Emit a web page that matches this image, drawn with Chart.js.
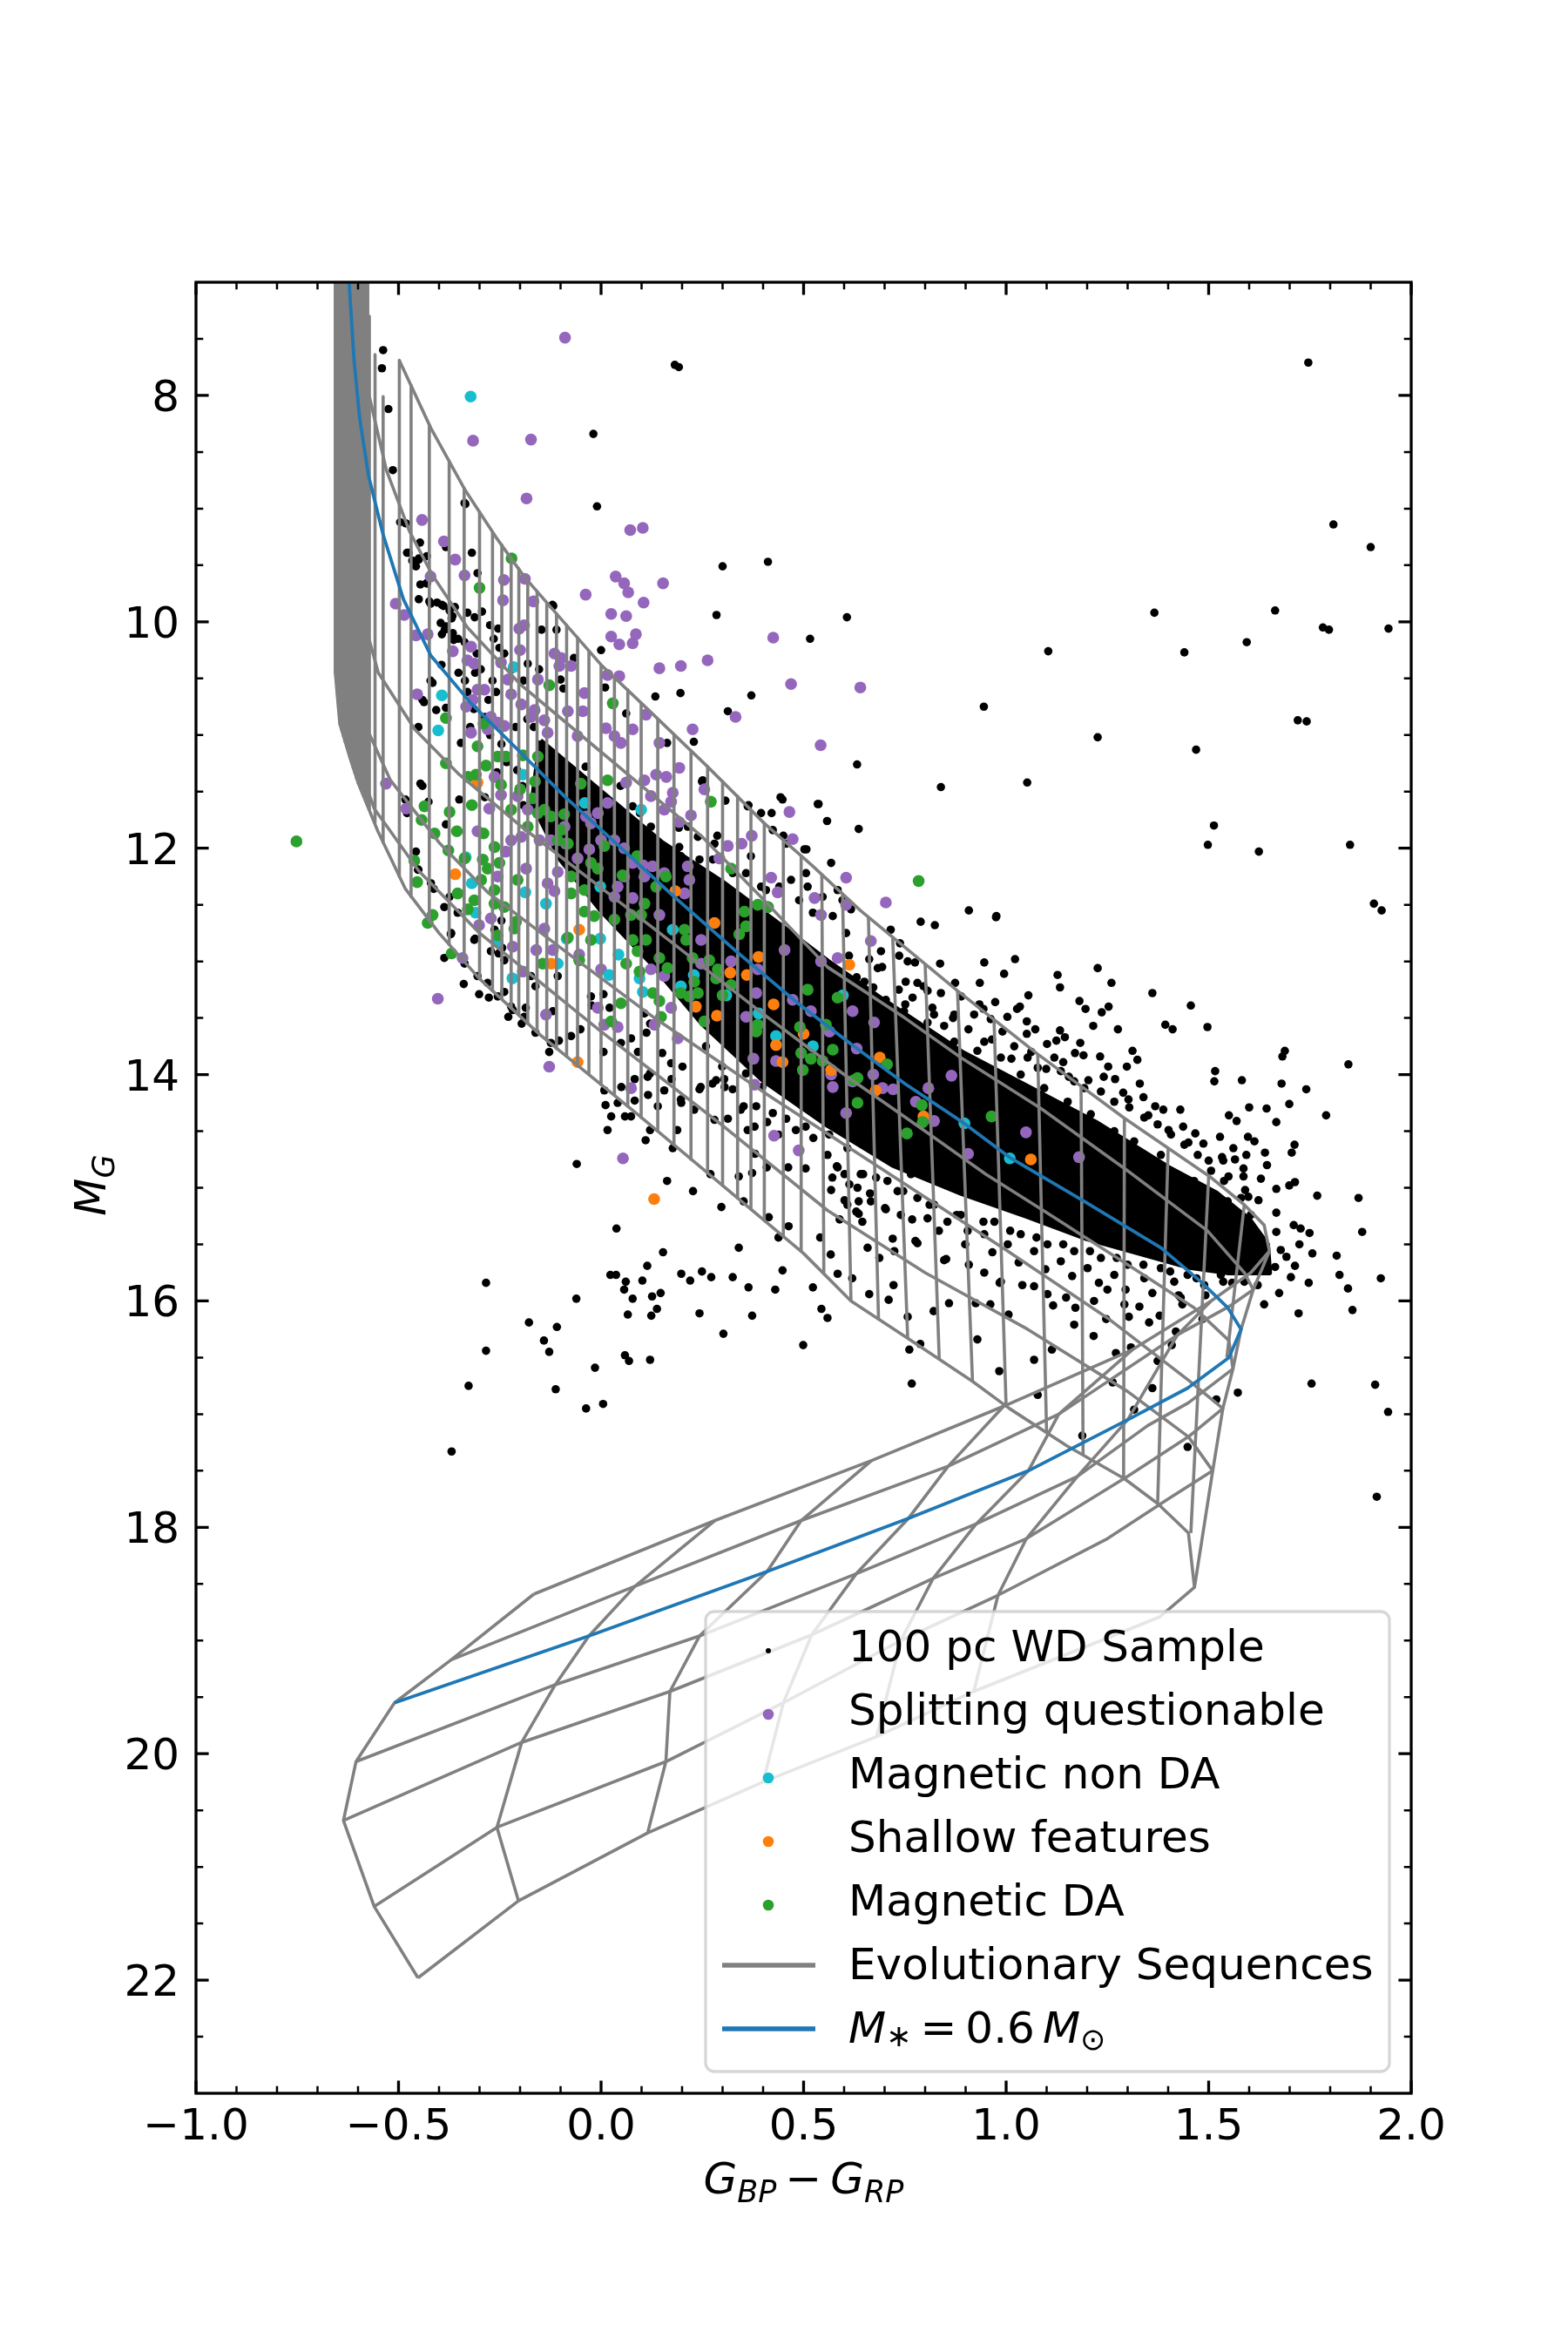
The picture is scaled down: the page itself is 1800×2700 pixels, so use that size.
<!DOCTYPE html>
<html>
<head>
<meta charset="utf-8">
<title>Gaia CMD of magnetic white dwarfs</title>
<script src="https://cdn.jsdelivr.net/npm/chart.js@4.4.1/dist/chart.umd.min.js"></script>
<style>
html,body{margin:0;padding:0;background:#ffffff;}
#wrap{position:relative;width:1800px;height:2700px;}
canvas{display:block;}
</style>
</head>
<body>
<div id="wrap"><canvas id="cmd" width="1800" height="2700"></canvas></div>
<script>
// ---------------- axis ticks / labels ----------------
const xTickValues = [-1.0, -0.5, 0.0, 0.5, 1.0, 1.5, 2.0];
const xTickLabels = ['\u22121.0', '\u22120.5', '0.0', '0.5', '1.0', '1.5', '2.0'];
const yTickValues = [8, 10, 12, 14, 16, 18, 20, 22];
const yTickLabels = ['8', '10', '12', '14', '16', '18', '20', '22'];
const legendLabels = ['100 pc WD Sample', 'Splitting questionable', 'Magnetic non DA', 'Shallow features', 'Magnetic DA', 'Evolutionary Sequences'];

// ---------------- 100 pc sample: outline of the saturated (overlapping) core ----------------
const wdCrowdedCore = [[-0.15,11.05],[-0.05,11.35],[0.05,11.65],[0.15,11.95],[0.3,12.3],[0.45,12.7],[0.56,13.0],[0.7,13.35],[0.89,13.8],[1.05,14.1],[1.22,14.42],[1.4,14.82],[1.52,15.05],[1.6,15.28],[1.645,15.5],[1.65,15.75],[1.55,15.75],[1.45,15.7],[1.3,15.55],[1.2,15.45],[1.05,15.25],[0.89,15.05],[0.72,14.8],[0.56,14.45],[0.4,14.05],[0.25,13.55],[0.12,13.0],[0.0,12.55],[-0.1,12.1],[-0.17,11.6],[-0.15,11.05]];

// ---------------- 100 pc sample: individual stars ----------------
const wdSample = [
[-0.538,7.60],[-0.541,7.76],[-0.525,8.12],[-0.514,8.66],[-0.496,9.12],[-0.482,9.13],[-0.447,9.30],[-0.383,9.34],[-0.319,9.39],[-0.335,8.96],[-0.305,9.57],[-0.475,9.39],[-0.466,9.46],[-0.457,9.51],[-0.45,9.45],[-0.43,9.42],[-0.446,9.67],[-0.43,9.66],[-0.424,9.82],[-0.405,9.83],[-0.389,9.86],[-0.361,9.87],[-0.367,9.95],[-0.33,9.92],[-0.312,9.96],[-0.294,9.91],[-0.274,10.03],[-0.254,10.06],[-0.396,10.01],[-0.386,10.07],[-0.366,10.10],[-0.353,10.15],[-0.337,10.18],[-0.394,10.38],[-0.416,10.54],[-0.437,10.71],[-0.265,10.15],[-0.251,10.23],[-0.118,9.86],[-0.147,10.07],[-0.181,10.37],[-0.10,10.51],[-0.093,10.59],
[-0.019,8.34],[-0.01,8.98],[0.192,7.75],[0.412,9.47],[0.300,9.51],[0.285,9.94],[-0.12,9.85],[0.371,10.65],[0.313,10.79],[0.196,10.63],[0.134,10.66],[0.01,10.58],[0.0,10.25],[-0.067,10.32],[-0.11,10.07],[-0.153,10.42],[-0.192,10.52],[0.062,10.81],[0.163,11.07],[0.249,11.41],[0.307,11.58],[0.364,11.62],[0.421,11.69],[0.45,11.89],
[-0.479,9.39],[-0.45,9.44],[-0.431,9.66],[-0.45,9.80],[-0.421,9.84],[-0.393,9.85],[-0.374,9.90],[-0.369,9.97],[-0.383,10.04],[-0.393,10.11],[-0.364,10.16],[-0.326,10.21],[-0.307,10.28],[-0.297,10.42],[-0.268,10.52],[-0.259,10.62],[-0.278,10.69],[-0.307,10.59],[-0.336,10.52],[-0.421,10.52],[-0.441,10.69],[-0.383,10.76],[-0.311,10.45],[-0.239,10.28],[-0.22,10.42],[-0.182,10.86],[-0.211,10.93],[-0.192,11.17],[-0.134,11.21],[-0.096,11.34],[-0.038,11.28],[0.048,11.45],[0.096,11.69],[0.192,11.82],[0.287,11.89],[-0.192,11.62],[-0.287,11.55],[-0.383,11.79],[-0.479,11.69],[-0.441,11.45],[-0.337,8.95],
[-0.33,10.62],[-0.314,10.77],[-0.287,10.84],[-0.274,11.0],[-0.246,11.08],[-0.233,11.24],[-0.207,11.31],[-0.194,11.45],[-0.352,10.45],[-0.323,10.93],[-0.257,11.33],[-0.166,10.93],[-0.143,11.13],[-0.117,11.27],[-0.083,11.5],[-0.047,11.6],[0.024,11.88],[-0.023,12.08],[0.063,12.08],[0.097,12.33],
[1.746,7.71],[1.808,9.14],[1.900,9.34],[1.944,10.06],[1.782,10.05],[1.797,10.07],[1.664,9.90],[1.594,10.18],[1.366,9.92],[1.44,10.27],[1.104,10.26],[0.945,10.75],[1.226,11.02],[1.469,11.13],[1.72,10.87],[1.742,10.88],[1.513,11.80],[1.498,11.97],[1.624,12.03],[1.849,11.97],[1.908,12.49],[0.839,11.46],[1.052,11.42],[1.845,13.91],[0.182,7.73],
[0.607,9.96],[0.516,10.15],[0.632,11.26],[0.537,11.61],[0.558,11.76],[0.636,11.83],[0.443,11.55],[0.507,12.01],[0.229,11.06],
[0.251,11.40],[0.362,11.63],[0.395,11.69],[0.448,11.57],[0.535,11.61],[0.424,11.84],[0.457,11.96],[0.502,12.01],[0.568,12.13],[0.37,12.07],[0.28,11.96],[0.239,11.90],[0.395,12.34],[0.469,12.28],[0.51,12.34],[0.584,12.37],[0.617,12.54],[0.288,12.34],[0.197,12.07],[0.123,11.81],[0.078,11.63],[0.037,11.72],[0.214,11.81],
[0.193,11.99],[0.243,12.1],[0.276,12.1],[0.325,12.22],[0.358,12.22],[0.407,12.37],[0.44,12.34],[0.489,12.46],[0.523,12.57],[0.572,12.6],[0.605,12.75],[0.506,12.22],[0.547,12.43],[0.596,12.46],
[0.115,14.02],[0.156,14.14],[0.197,14.22],[0.23,14.31],[0.28,14.40],[0.345,14.31],[0.379,14.46],[0.173,13.90],[0.049,13.72],[0.305,14.11],[0.008,14.14],[0.041,14.25],[0.074,14.37],[-0.074,13.66],[-0.124,13.72],[-0.19,13.49],[-0.222,13.40],[-0.255,13.31],[-0.28,13.19],[-0.305,13.13],[-0.337,13.02],[-0.37,12.75],
[0.259,13.75],[0.299,13.93],[0.358,13.99],[0.398,14.11],[0.457,14.13],[0.497,14.28],[0.556,14.28],[0.596,14.43],[0.284,14.05],[0.325,14.13],[0.383,14.28],[0.424,14.34],[0.481,14.49],[0.243,14.13],[0.151,13.81],[0.201,13.93],
[-0.451,10.93],[-0.446,11.43],[-0.35,11.57],[-0.407,10.78],[-0.346,11.07],[-0.457,12.03],[-0.451,12.19],[-0.42,12.31],[-0.374,12.43],[-0.354,12.57],[-0.313,12.81],[-0.239,12.99],[-0.173,13.13],[-0.107,13.13],[-0.025,13.31],
[-0.284,15.84],[-0.178,16.19],[-0.141,16.35],[-0.128,16.45],[-0.109,16.23],[-0.284,16.44],[-0.327,16.75],[-0.112,16.78],[-0.061,15.98],[-0.06,14.79],[-0.015,16.59],[0.023,15.77],[0.037,15.77],[0.061,15.83],[0.057,15.90],[0.078,15.98],[0.066,16.12],[0.059,16.48],[0.069,16.53],[0.121,16.52],[0.102,15.82],[0.124,16.13],[0.138,16.07],[0.126,15.96],[0.147,15.93],[0.114,15.69],[0.153,15.57],[0.198,15.76],[0.22,15.82],[0.249,15.74],[0.272,15.79],[0.243,16.11],[0.302,16.29],[0.325,15.79],[0.34,15.53],[0.373,16.13],[0.364,15.88],[0.43,15.90],[0.448,15.73],[0.414,15.26],[0.438,15.44],[0.463,15.34],[0.499,16.39],[0.541,15.44],[0.544,16.07],[0.523,15.88],[0.62,15.80],[0.636,15.23],[0.601,15.11],[0.568,15.02],[0.038,15.36],[0.011,14.27],[0.016,14.49],[0.025,14.37],[0.059,14.37],[0.083,14.23],[0.05,14.11],[0.11,14.58],[0.121,14.49],[0.177,14.65],[0.188,14.49],[0.163,14.94],[0.227,15.03],[0.27,14.88],[0.297,15.17],[0.34,14.90],[0.352,15.12],[0.373,14.87],[0.38,14.70],[0.409,14.82],[0.462,14.82],[0.505,14.83],[0.582,14.81],[0.601,14.88],[0.647,14.88],[0.664,15.05],[0.63,15.21],
[-0.483,11.57],[-0.426,11.59],[-0.461,12.10],[-0.452,12.19],[-0.413,12.36],[-0.387,12.52],[-0.371,12.76],[-0.387,12.97],[-0.311,12.80],[-0.263,12.72],[-0.272,12.91],[-0.253,12.93],[-0.244,12.88],[-0.246,12.64],[-0.301,13.29],[-0.277,13.32],[-0.339,13.20],[-0.239,13.27],[-0.218,13.43],[-0.229,13.49],[-0.196,13.55],[-0.162,13.63],[-0.128,13.80],[-0.104,13.70],[-0.051,13.60],[-0.119,13.44],[-0.186,13.41],[-0.162,13.22],[-0.023,13.39],[0.006,13.29],[0.021,13.41],[0.035,13.56],[0.074,13.68],[0.091,13.80],[0.112,13.63],[0.121,13.55],[0.107,13.46],[0.006,13.80],[0.083,14.04],[0.121,13.99],[0.116,14.18],[0.14,14.28],[0.198,14.25],[0.174,14.04],[0.246,14.11],[0.275,14.08],[0.304,14.04],[0.313,14.39],[0.352,14.28],[0.362,14.49],[0.41,14.42],[0.457,14.39],[0.438,14.53],[0.505,14.46],[0.524,14.56],[0.563,14.53],
[0.715,12.72],[0.691,12.91],[0.736,12.95],[0.757,13.0],[0.662,12.98],[0.683,13.06],[0.752,13.18],[0.781,13.19],[0.806,13.26],[0.769,13.32],[0.822,13.47],[0.806,13.54],[0.847,13.57],[0.872,13.47],[0.921,13.47],[0.934,13.38],[0.962,13.51],[0.991,13.62],[0.946,13.71],[1.02,13.75],[1.053,13.85],[1.078,13.94],[1.119,13.85],[1.135,13.97],[1.168,14.06],[1.193,14.12],[1.234,14.15],[1.267,14.24],[1.304,14.29],[1.341,14.38],[1.374,14.44],[1.407,14.53],[1.44,14.62],[1.473,14.71],[1.506,14.85],[1.538,14.94],[1.58,15.09],[1.604,15.24],[1.547,15.12],[1.464,14.94],[1.382,14.71],[1.316,14.59],[1.267,14.50],[1.209,14.35],[1.152,14.24],[1.094,14.12],[1.036,14.0],[0.987,13.85],[0.929,13.79],[0.872,13.71],[0.724,13.56],[0.65,13.18],[0.608,13.35],[0.703,13.34],[0.748,13.44],
[0.612,12.95],[0.631,13.14],[0.672,13.23],[0.694,13.05],[0.735,13.25],[0.751,13.38],[0.796,13.22],[0.818,13.41],[0.839,13.28],[0.869,13.5],[0.889,13.31],[0.907,13.6],[0.944,13.42],[0.965,13.69],[1.003,13.49],[1.013,13.86],[1.051,13.64],[1.062,13.8],[1.099,13.95],[1.124,13.7],[1.141,13.89],[1.155,14.02],[1.191,13.83],[1.203,14.05],[1.241,14.02],[1.252,13.93],[1.289,14.16],[1.302,14.22],[1.339,14.2],[1.351,14.36],[1.388,14.31],[1.401,14.49],[1.437,14.46],[1.45,14.6],[1.487,14.61],[1.5,14.76],[1.536,14.76],[1.549,14.9],[1.586,14.9],[1.598,15.08],[1.623,15.11],[1.565,14.75],[1.528,14.55],[1.467,14.52],[1.43,14.31],[1.368,14.28],[1.33,14.08],[1.269,14.04],[1.232,13.84],[1.17,13.81],[1.133,13.61],[1.072,13.6],[1.034,13.4],[0.973,13.36],[0.935,13.19],[0.874,13.19],[0.837,13.02],[0.775,13.01],[0.738,12.84],
[0.559,14.71],[0.608,14.65],[0.584,14.82],[0.641,14.88],[0.633,15.0],[0.707,14.94],[0.732,15.03],[0.765,14.88],[0.781,15.09],[0.822,15.15],[0.806,15.27],[0.855,15.30],[0.888,15.24],[0.905,15.38],[0.946,15.41],[0.971,15.30],[1.004,15.50],[1.036,15.41],[1.069,15.56],[1.102,15.50],[1.135,15.65],[1.168,15.56],[1.201,15.71],[1.234,15.62],[1.267,15.77],[1.3,15.68],[1.341,15.80],[1.382,15.71],[1.415,15.83],[1.448,15.77],[1.489,15.86],[1.53,15.77],[1.571,15.71],[1.613,15.65],[1.588,15.83],[0.748,14.77],[0.666,15.12],[0.74,15.24],[0.608,15.15],
[0.571,14.91],[0.613,14.97],[0.636,15.12],[0.679,14.91],[0.701,15.18],[0.746,15.03],[0.768,15.28],[0.811,15.15],[0.834,15.38],[0.878,15.24],[0.899,15.5],[0.944,15.3],[0.966,15.57],[1.01,15.38],[1.031,15.66],[1.075,15.44],[1.097,15.72],[1.141,15.5],[1.163,15.78],[1.207,15.56],[1.229,15.84],[1.273,15.62],[1.295,15.9],[1.339,15.68],[1.361,15.93],[1.405,15.74],[1.426,15.95],[1.47,15.8],[1.492,15.95],[1.536,15.83],[1.558,15.84],[1.602,15.68],[0.589,15.28],[0.645,15.3],[0.72,15.45],[0.776,15.47],[0.852,15.63],[0.908,15.68],[0.984,15.84],[1.04,15.86],[1.116,16.04],[1.171,16.06],[1.247,16.16],[1.303,16.14],[1.379,16.13],[1.435,16.03],
[0.584,15.76],[0.662,15.94],[0.71,15.99],[0.722,15.86],[0.788,16.38],[0.757,16.14],[0.761,16.43],[0.859,16.02],[0.821,16.09],[0.925,16.02],[0.961,16.03],[1.006,16.12],[0.983,16.62],[0.929,16.34],[1.069,16.52],[1.113,16.43],[1.168,16.21],[1.216,16.31],[1.217,16.0],[1.263,16.72],[1.308,16.41],[1.353,16.19],[1.361,16.77],[1.374,16.53],[1.419,16.27],[1.485,16.16],[0.767,16.73],[0.559,16.15],[0.658,15.53],[0.724,15.56],[0.781,15.49],[0.703,15.19],[0.567,15.59],[0.687,15.62],[0.847,15.64],[0.946,15.75],[0.987,15.83],[1.069,15.87],[1.102,15.94],[1.148,15.97],[1.25,15.90],[1.292,16.03],[1.329,16.05],[1.431,15.97],[1.078,16.83],[1.188,17.19],[-0.037,16.95],[0.005,16.91],[-0.369,17.33],
[0.789,12.65],[0.824,12.68],[0.975,12.61],[1.022,12.98],[0.946,13.01],[0.995,13.11],[1.127,13.12],[1.226,13.06],[1.26,13.19],[1.133,13.23],[1.055,13.30],[1.181,13.35],[1.196,13.42],[1.236,13.45],[1.253,13.40],[1.361,13.28],[1.456,13.39],[1.393,13.56],[1.411,13.60],[1.497,13.58],[1.276,13.60],[1.215,13.57],[1.145,13.67],[1.183,13.72],[1.101,13.73],[1.051,13.53],[1.027,13.42],[1.312,13.79],[1.324,13.87],[1.298,13.93],[1.688,13.79],[1.682,13.84],[1.516,13.97],[1.514,14.06],[1.582,14.05],[1.68,14.08],[1.533,14.73],[1.927,12.55],[0.908,12.55],[0.976,12.60],
[1.79,14.36],[1.741,14.13],[1.699,14.26],[1.643,14.30],[1.60,14.29],[1.569,14.41],[1.55,14.36],[1.667,14.42],[1.613,14.59],[1.597,14.55],[1.712,14.62],[1.705,14.69],[1.639,14.69],[1.644,14.80],[1.593,14.71],[1.561,14.65],[1.586,14.83],[1.629,14.92],[1.713,14.95],[1.699,14.98],[1.667,15.01],[1.59,15.02],[1.768,15.07],[1.87,15.09],[1.879,15.39],[1.71,15.33],[1.727,15.36],[1.749,15.40],[1.667,15.22],[1.667,15.39],[1.724,15.50],[1.756,15.58],[1.816,15.60],[1.678,15.55],[1.692,15.61],[1.713,15.69],[1.664,15.70],[1.703,15.79],[1.747,15.84],[1.823,15.77],[1.844,15.89],[1.925,15.80],[1.722,16.11],[1.637,16.03],[1.674,15.93],[1.621,15.86],[1.855,16.08],[1.754,16.73],[1.911,16.74],[1.943,16.98],[1.915,17.73],[1.572,16.81],[1.519,16.87],[1.316,16.96],[1.448,17.29],[1.271,16.46],[1.409,16.39]
];

// ---------------- magnetic WD subsamples ----------------
const splittingQuestionable = [
[-0.089,7.49],[-0.316,8.40],[-0.173,8.39],[-0.184,8.91],[-0.442,9.10],[-0.388,9.29],[-0.36,9.45],[-0.421,9.60],[-0.337,9.59],[-0.24,9.63],[-0.188,9.62],[-0.242,9.81],[-0.167,9.82],[-0.507,9.84],
[0.072,9.19],[0.103,9.17],[-0.038,9.76],[0.036,9.60],[0.057,9.66],[0.067,9.74],[0.153,9.66],[0.105,9.83],[0.64,10.58],
[-0.486,9.94],[-0.457,10.12],[-0.428,10.11],[-0.366,10.26],[-0.321,10.22],[-0.33,10.34],[-0.313,10.37],[-0.305,10.60],[-0.288,10.60],[-0.317,10.69],[-0.333,10.75],[-0.272,10.84],[-0.255,10.89],[-0.28,10.95],[-0.321,10.98],[-0.239,10.92],[-0.202,10.06],[-0.19,10.03],[-0.2,10.25],[-0.247,10.36],[-0.23,10.51],[-0.222,10.64],[-0.156,10.51],[-0.164,10.78],[-0.14,10.87],[-0.197,10.73],[-0.173,10.84],[-0.115,10.28],[-0.099,10.32],[-0.103,10.39],[-0.074,10.39],[-0.041,10.63],[-0.045,10.79],[-0.082,10.79],[-0.132,10.98],[-0.058,11.01],[0.012,10.94],[0.033,11.01],[0.049,11.07],[0.078,10.95],[0.016,10.47],[0.045,10.48],[0.025,9.93],[0.062,9.95],[0.025,10.13],[0.045,10.20],[0.078,10.19],[0.086,10.11],[0.144,10.41],[0.197,10.39],[0.263,10.34],[0.425,10.14],[0.469,10.55],[0.332,10.84],[0.226,10.95],[0.111,10.82],[0.144,11.07],[0.542,11.09],[0.193,11.29],[0.136,11.35],[0.161,11.37],[0.107,11.40],[0.062,11.42],[0.177,11.51],[0.173,11.59],[0.123,11.54],[0.255,11.48],[0.222,11.71],[0.193,11.77],[0.156,11.66],[0.313,11.98],[0.292,12.09],[0.465,11.68],[0.473,11.92],[0.372,11.89],[0.347,11.96],[0.605,12.26],[0.42,12.26],[0.436,12.39],[0.527,12.44],[0.543,12.59],[0.412,12.52],[0.605,12.50],[-0.025,11.78],[-0.037,11.72],[-0.008,11.69],[0.016,11.60],[0.0,11.93],[0.033,11.93],[0.057,12.0],[-0.029,12.01],[-0.058,12.09],[-0.087,11.96],[-0.124,11.93],[-0.09,11.81],[-0.181,11.66],[-0.222,11.93],[-0.197,11.90],[-0.152,11.93],[-0.206,11.54],[-0.247,11.53],[-0.263,11.37],[-0.276,11.65],[-0.305,11.85],[-0.235,12.03],[-0.185,12.18],[-0.132,12.31],[-0.107,12.21],[-0.115,12.38],[0.078,12.13],[0.103,12.15],[0.127,12.16],[0.107,12.25],[0.057,12.25],[0.041,12.34],[0.033,12.43],[0.078,12.44],[0.156,12.22],[0.214,12.16],[0.218,12.28],[0.206,12.40],[0.144,12.59],[0.247,12.81],[0.247,13.02],[0.321,13.0],[0.387,13.07],[0.383,13.28],[0.358,13.49],[0.376,13.86],[0.432,13.88],[0.473,13.34],[0.518,13.44],[0.564,13.62],[0.584,12.97],[0.543,13.0],[0.453,12.90],[0.605,14.34],[0.568,14.0],[0.572,14.11],[0.379,14.09],[0.074,14.12],[0.189,13.68],[0.132,13.56],[0.173,13.41],[0.156,13.13],[0.123,13.07],[0.0,13.07],[-0.008,13.41],[0.008,13.56],[0.041,13.58],[-0.136,13.47],[-0.128,13.93],[-0.218,12.87],[-0.193,13.09],[-0.16,12.90],[-0.119,12.90],[-0.054,12.94],[-0.14,12.71],[-0.272,12.62],[-0.301,12.68],[-0.342,12.97],[-0.403,13.33],[-0.481,11.65],[-0.531,11.43],[-0.454,10.64],[-0.255,12.25],
[0.666,12.82],[0.621,13.44],[0.674,13.54],[0.631,13.77],[0.672,14.0],[0.621,14.06],[0.695,14.12],[0.721,14.13],[0.808,14.12],[0.865,14.01],[0.777,14.24],[0.822,14.41],[0.906,14.70],[1.049,14.51],[1.18,14.73],[0.703,12.48],[0.054,14.74],[0.427,14.54],[0.488,14.67]
];
const magneticNonDA = [
[-0.322,8.01],[-0.216,10.40],[-0.393,10.65],[-0.402,10.96],[-0.193,11.35],[-0.04,11.60],[0.099,11.66],[-0.334,12.08],[-0.319,12.31],[-0.31,12.57],[-0.187,12.39],[-0.136,12.49],[-0.002,12.34],[-0.085,12.80],[-0.002,12.80],[0.043,12.94],[-0.255,12.83],[-0.219,13.15],[-0.107,13.02],[0.02,13.12],[0.095,13.15],[0.103,13.27],[0.177,12.72],[0.197,13.22],[0.229,13.12],[0.309,13.30],[0.389,13.46],[0.432,13.66],[0.523,13.75],[0.597,13.30],[0.897,14.43],[1.009,14.74]
];
const shallowFeatures = [
[-0.305,11.42],[-0.36,12.23],[-0.054,12.72],[-0.123,13.02],[0.183,12.38],[0.28,12.66],[0.319,13.10],[0.36,13.12],[0.389,12.96],[0.234,13.40],[0.286,13.48],[0.426,13.38],[0.432,13.74],[0.5,13.64],[0.448,13.89],[0.568,13.96],[0.613,13.03],[-0.058,13.89],[0.688,13.85],[0.678,14.14],[0.796,14.37],[1.061,14.75],[0.131,15.10]
];
const magneticDA = [
[-0.752,11.94],[-0.221,9.44],[-0.3,9.70],[0.784,12.29],
[-0.128,10.56],[0.029,10.72],[-0.383,10.85],[-0.29,10.90],[-0.305,11.10],[-0.284,11.27],[-0.255,11.19],[-0.235,11.19],[-0.193,11.18],[-0.156,11.19],[-0.383,11.25],[-0.329,11.37],[-0.309,11.35],[-0.247,11.44],[-0.2,11.48],[-0.169,11.56],[-0.163,11.41],[-0.222,11.66],[-0.181,11.81],[-0.156,11.69],[-0.14,11.66],[-0.124,11.72],[-0.091,11.70],[-0.099,11.84],[-0.107,11.93],[-0.082,11.96],[-0.05,11.43],[0.016,11.40],[0.271,11.59],[0.008,11.98],[0.089,12.07],[0.053,12.24],[-0.008,12.18],[-0.025,12.13],[-0.074,12.25],[-0.074,12.40],[-0.041,12.37],[-0.041,12.56],[-0.017,12.60],[0.074,12.59],[0.099,12.59],[0.107,12.49],[0.136,12.34],[0.16,12.25],[0.321,12.18],[0.387,12.5],[0.412,12.52],[0.354,12.56],[0.358,12.69],[0.341,12.76],[0.206,12.72],[0.21,12.81],[0.111,12.81],[0.078,12.81],[0.09,12.91],[0.095,13.09],[0.062,13.02],[0.144,12.97],[0.164,13.06],[0.226,12.97],[0.267,12.99],[0.288,13.07],[0.284,13.15],[0.321,13.21],[0.23,13.18],[0.239,13.28],[0.218,13.31],[0.197,13.28],[0.128,13.28],[0.144,13.35],[0.148,13.49],[0.255,13.53],[0.3,13.30],[0.387,13.56],[0.383,13.62],[0.491,13.58],[0.51,13.25],[0.584,13.32],[0.555,13.56],[0.494,13.81],[0.518,13.86],[0.547,13.88],[0.498,13.96],[0.572,13.78],[0.624,14.05],[0.025,13.53],[0.049,13.37],[0.033,12.63],[-0.025,12.81],[-0.054,12.99],[-0.082,12.79],[-0.144,13.02],[-0.21,12.65],[-0.214,12.71],[-0.206,12.28],[-0.239,12.52],[-0.263,12.49],[-0.255,12.77],[-0.329,12.54],[-0.313,12.46],[-0.354,12.40],[-0.263,12.37],[-0.296,12.28],[-0.28,12.18],[-0.251,12.13],[-0.292,12.10],[-0.337,12.09],[-0.29,11.87],[-0.263,11.99],[-0.356,11.85],[-0.377,12.02],[-0.411,11.87],[-0.436,11.63],[-0.443,11.75],[-0.374,11.68],[-0.319,11.62],[-0.461,12.11],[-0.454,12.30],[-0.416,12.59],[-0.428,12.66],[-0.369,12.93],
[0.706,13.91],[0.633,14.03],[0.633,14.25],[0.792,14.27],[0.794,14.42],[0.755,14.52],[0.964,14.37]
];

// ---------------- evolutionary sequences: cooling tracks ----------------
const seqLowest = [[-0.498,7.69],[-0.42,8.29],[-0.335,8.84],[-0.26,9.25],[-0.19,9.6],[-0.10,9.97],[0.0,10.38],[0.1,10.72],[0.263,11.28],[0.403,11.78],[0.52,12.15],[0.64,12.55],[0.88,13.26],[1.078,13.82],[1.29,14.38],[1.506,14.91],[1.588,15.15],[1.637,15.33],[1.65,15.56],[1.604,15.75],[1.506,16.0],[1.312,16.43],[0.994,16.93],[0.668,17.41],[0.281,17.94],[-0.166,18.59]];
const seqSecond = [[-0.60,7.0],[-0.581,7.87],[-0.53,8.66],[-0.473,9.2],[-0.416,9.59],[-0.33,10.05],[-0.2,10.55],[-0.05,11.0],[0.1,11.45],[0.25,11.9],[0.4,12.45],[0.559,13.05],[0.75,13.5],[0.888,13.85],[1.086,14.3],[1.30,14.85],[1.497,15.38],[1.588,15.75],[1.61,15.9],[1.55,16.05],[1.423,16.3],[1.13,17.0],[0.857,17.46],[0.494,17.94],[0.084,18.52],[-0.37,19.17]];
const seq06 = [[-0.622,7.0],[-0.61,7.68],[-0.596,8.2],[-0.574,8.71],[-0.538,9.23],[-0.488,9.8],[-0.42,10.3],[-0.321,10.72],[-0.2,11.15],[-0.091,11.54],[0.05,12.0],[0.181,12.43],[0.33,12.9],[0.486,13.37],[0.624,13.75],[0.75,14.08],[0.896,14.43],[1.012,14.74],[1.193,15.12],[1.382,15.53],[1.481,15.83],[1.547,16.06],[1.58,16.25],[1.55,16.5],[1.448,16.77],[1.3,17.05],[1.055,17.5],[0.759,17.92],[0.41,18.39],[-0.03,18.96],[-0.51,19.55]];
const seqFourth = [[-0.64,7.0],[-0.635,8.0],[-0.625,9.0],[-0.6,9.8],[-0.55,10.45],[-0.46,10.95],[-0.35,11.35],[-0.2,11.8],[0.0,12.35],[0.181,12.85],[0.395,13.45],[0.6,14.0],[0.8,14.5],[0.95,14.88],[1.1,15.22],[1.3,15.68],[1.464,16.06],[1.55,16.35],[1.56,16.6],[1.45,16.9],[1.35,17.1],[1.176,17.55],[0.926,17.97],[0.63,18.41],[0.243,18.96],[-0.113,19.39],[-0.605,20.07]];
const seqFifth = [[-0.648,7.0],[-0.645,8.5],[-0.64,9.5],[-0.625,10.3],[-0.59,10.85],[-0.52,11.4],[-0.4,11.95],[-0.28,12.39],[-0.074,12.95],[0.132,13.5],[0.42,14.2],[0.7,14.85],[1.0,15.55],[1.25,16.15],[1.45,16.7],[1.535,16.95],[1.45,17.2],[1.3,17.55],[1.05,18.1],[0.82,18.45],[0.52,18.95],[0.17,19.45],[-0.196,19.9],[-0.636,20.59]];
const seqSixth = [[-0.652,7.0],[-0.65,9.5],[-0.645,10.4],[-0.62,11.05],[-0.56,11.65],[-0.45,12.2],[-0.3,12.75],[0.0,13.62],[0.3,14.45],[0.559,15.2],[0.8,15.75],[1.053,16.25],[1.3,16.8],[1.45,17.2],[1.51,17.5],[1.4,17.75],[1.25,18.1],[0.98,18.6],[0.74,19.0],[0.45,19.55],[0.16,20.07],[-0.257,20.65],[-0.56,21.35]];
const seqHighest = [[-0.656,7.0],[-0.656,10.45],[-0.645,10.9],[-0.62,11.2],[-0.599,11.43],[-0.551,11.85],[-0.483,12.36],[-0.4,12.75],[-0.301,13.15],[-0.15,13.65],[0.09,14.35],[0.3,14.98],[0.5,15.58],[0.617,16.0],[0.757,16.33],[0.917,16.71],[1.008,16.95],[1.15,17.28],[1.292,17.57],[1.374,17.79],[1.45,18.05],[1.465,18.53],[1.38,18.79],[1.2,19.05],[0.92,19.45],[0.68,19.85],[0.4,20.25],[0.115,20.7],[-0.204,21.3],[-0.452,21.98]];
const seqTurnEdge = [[1.65,15.56],[1.61,15.9],[1.58,16.25],[1.56,16.6],[1.535,16.95],[1.51,17.5],[1.465,18.53]];

// ---------------- evolutionary sequences: isochrones ----------------
const isoLowA = [[0.281,17.94],[0.084,18.52],[-0.03,18.96],[-0.113,19.39],[-0.196,19.9],[-0.257,20.65],[-0.204,21.3]];
const isoLowB = [[0.668,17.41],[0.494,17.94],[0.41,18.39],[0.243,18.96],[0.17,19.45],[0.16,20.07],[0.115,20.7]];
const isoLowC = [[0.994,16.93],[0.857,17.46],[0.759,17.92],[0.63,18.41],[0.52,18.95],[0.45,19.55],[0.4,20.25]];
const isoLowD = [[1.312,16.43],[1.13,17.0],[1.055,17.5],[0.926,17.97],[0.82,18.45],[0.74,19.0],[0.68,19.85]];
const isoLowE = [[1.506,16.0],[1.423,16.3],[1.3,17.05],[1.176,17.55],[1.05,18.1],[0.98,18.6],[0.92,19.45]];
const isoLowEdge = [[-0.166,18.59],[-0.37,19.17],[-0.51,19.55],[-0.605,20.07],[-0.636,20.59],[-0.56,21.35],[-0.452,21.98]];
// young isochrones: [x at top, MG at top, x at bottom, MG at bottom]
const isoUpper = [
[-0.656,7,-0.656,10.45],[-0.652,7,-0.652,10.62],[-0.648,7,-0.648,10.75],[-0.644,7,-0.644,10.91],[-0.640,7,-0.640,10.96],[-0.636,7,-0.636,11.01],[-0.632,7,-0.632,11.06],[-0.628,7,-0.628,11.10],[-0.624,7,-0.624,11.15],[-0.620,7,-0.620,11.20],[-0.616,7,-0.616,11.24],[-0.612,7,-0.612,11.29],[-0.608,7,-0.608,11.33],[-0.604,7,-0.604,11.38],[-0.600,7,-0.600,11.42],[-0.594,7,-0.594,11.47],[-0.588,7,-0.588,11.52],[-0.582,7,-0.582,11.57],[-0.576,7,-0.576,11.62],
[-0.572,7.30,-0.572,11.66],[-0.558,7.64,-0.558,11.78],[-0.538,8.01,-0.538,11.95],[-0.498,7.69,-0.498,12.25],
[-0.469,7.91,-0.469,12.43],[-0.424,8.26,-0.424,12.64],[-0.375,8.58,-0.375,12.85],[-0.338,8.82,-0.338,13.00],[-0.300,9.03,-0.300,13.15],[-0.268,9.21,-0.268,13.26],[-0.245,9.32,-0.245,13.33],[-0.222,9.44,-0.222,13.41],[-0.203,9.53,-0.203,13.47],[-0.181,9.64,-0.181,13.55],[-0.158,9.73,-0.158,13.62],[-0.134,9.83,-0.134,13.70],[-0.110,9.93,-0.110,13.77],[-0.085,10.03,-0.085,13.84],[-0.058,10.14,-0.058,13.92],[-0.030,10.26,-0.030,14.00],[0.000,10.38,0.000,14.09],[0.033,10.49,0.033,14.18],[0.066,10.60,0.066,14.28],[0.099,10.72,0.099,14.38],[0.140,10.86,0.140,14.50],[0.180,11.00,0.180,14.62],[0.222,11.14,0.222,14.75],[0.263,11.28,0.263,14.87],[0.300,11.41,0.300,14.98],[0.337,11.54,0.337,15.09],[0.370,11.66,0.370,15.19],[0.403,11.78,0.403,15.29],[0.450,11.93,0.450,15.43],[0.494,12.07,0.494,15.56],[0.545,12.23,0.550,15.75],[0.596,12.40,0.617,16.00],[0.660,12.61,0.685,16.17],[0.720,12.79,0.757,16.33],[0.800,13.02,0.835,16.52],[0.880,13.26,0.917,16.71],[0.970,13.51,1.000,16.93],[1.078,13.82,1.100,17.17],[1.185,14.10,1.190,17.36],[1.292,14.38,1.290,17.57],[1.400,14.65,1.374,17.79],[1.500,14.90,1.456,18.05],[1.588,15.15,1.545,16.50]
];

// ---------------- build datasets ----------------
const toXY = arr => arr.map(p => ({x: p[0], y: p[1]}));
const GRAY = '#808080', BLUE = '#1f77b4';
const COL = {wd: '#000000', split: '#9467bd', nonDA: '#17becf', shallow: '#ff7f0e', magDA: '#2ca02c'};

function scatterSet(label, pts, color, r, order) {
  return {type: 'scatter', label, data: toXY(pts), backgroundColor: color, borderColor: color,
          borderWidth: 0, pointRadius: r, pointHoverRadius: r, order, clip: 0};
}
function lineSet(label, pts, color, w, order) {
  return {type: 'line', label, data: toXY(pts), borderColor: color, backgroundColor: color,
          borderWidth: w, pointRadius: 0, pointHoverRadius: 0, fill: false, tension: 0,
          order, clip: 0, borderCapStyle: 'butt', borderJoinStyle: 'round'};
}

const datasets = [];
datasets.push({type: 'line', label: 'core', data: toXY(wdCrowdedCore), borderColor: '#000', backgroundColor: '#000',
  borderWidth: 6, pointRadius: 0, fill: 'shape', tension: 0, order: 101, clip: 0, borderJoinStyle: 'round'});
datasets.push(scatterSet(legendLabels[0], wdSample, COL.wd, 4.8, 100));
datasets.push(scatterSet(legendLabels[1], splittingQuestionable, COL.split, 6.8, 90));
datasets.push(scatterSet(legendLabels[2], magneticNonDA, COL.nonDA, 6.8, 80));
datasets.push(scatterSet(legendLabels[3], shallowFeatures, COL.shallow, 6.8, 70));
datasets.push(scatterSet(legendLabels[4], magneticDA, COL.magDA, 6.8, 60));
[seqLowest, seqSecond, seqFourth, seqFifth, seqSixth, seqHighest, seqTurnEdge,
 isoLowA, isoLowB, isoLowC, isoLowD, isoLowE, isoLowEdge].forEach((s, i) => datasets.push(lineSet('seq' + i, s, GRAY, 3.6, 50)));
isoUpper.forEach((s, i) => datasets.push(lineSet('iso' + i, [[s[0], s[1]], [s[2], s[3]]], GRAY, 3.6, 50)));
datasets.push(lineSet('M06', seq06, BLUE, 3.8, 40));

// ---------------- decorations (frame, ticks, labels, legend) ----------------
function mathRun(ctx, parts) {
  let w = 0;
  parts.forEach(p => { ctx.font = p.f; w += ctx.measureText(p.t).width + (p.g || 0); });
  return w;
}
function drawRun(ctx, parts, x, y) {
  let cx = x;
  parts.forEach(p => { ctx.font = p.f; ctx.fillText(p.t, cx, y + (p.dy || 0)); cx += ctx.measureText(p.t).width + (p.g || 0); });
}

const decor = {
  id: 'decor',
  afterDraw(chart) {
    const ctx = chart.ctx, a = chart.chartArea, xs = chart.scales.x, ys = chart.scales.y;
    ctx.save();
    ctx.fillStyle = '#000'; ctx.strokeStyle = '#000';
    // minor ticks
    ctx.lineWidth = 2.5; ctx.beginPath();
    for (let i = -10; i <= 20; i++) {
      if (i % 5 === 0) continue;
      const px = xs.getPixelForValue(i / 10);
      ctx.moveTo(px, a.bottom); ctx.lineTo(px, a.bottom - 8.3);
      ctx.moveTo(px, a.top); ctx.lineTo(px, a.top + 8.3);
    }
    for (let i = 15; i <= 45; i++) {
      const v = i / 2;
      if (v % 2 === 0) continue;
      const py = ys.getPixelForValue(v);
      ctx.moveTo(a.left, py); ctx.lineTo(a.left + 8.3, py);
      ctx.moveTo(a.right, py); ctx.lineTo(a.right - 8.3, py);
    }
    ctx.stroke();
    // major ticks
    ctx.lineWidth = 3.3; ctx.beginPath();
    xTickValues.forEach(v => {
      const px = xs.getPixelForValue(v);
      ctx.moveTo(px, a.bottom); ctx.lineTo(px, a.bottom - 14.6);
      ctx.moveTo(px, a.top); ctx.lineTo(px, a.top + 14.6);
    });
    yTickValues.forEach(v => {
      const py = ys.getPixelForValue(v);
      ctx.moveTo(a.left, py); ctx.lineTo(a.left + 14.6, py);
      ctx.moveTo(a.right, py); ctx.lineTo(a.right - 14.6, py);
    });
    ctx.stroke();
    // frame
    ctx.lineWidth = 3.3;
    ctx.strokeRect(a.left, a.top, a.right - a.left, a.bottom - a.top);
    // tick labels
    ctx.font = '50px "DejaVu Sans"';
    ctx.textBaseline = 'alphabetic';
    ctx.textAlign = 'center';
    xTickValues.forEach((v, i) => ctx.fillText(xTickLabels[i], xs.getPixelForValue(v), a.bottom + 53));
    ctx.textAlign = 'right';
    yTickValues.forEach((v, i) => ctx.fillText(yTickLabels[i], a.left - 19, ys.getPixelForValue(v) + 18));
    // x axis title  G_BP - G_RP
    ctx.textAlign = 'left';
    const IT = 'italic 50px "DejaVu Sans"', ITs = 'italic 35px "DejaVu Sans"', UP = '50px "DejaVu Sans"', UPs = '35px "DejaVu Sans"';
    const xt = [{t: 'G', f: IT}, {t: 'BP', f: ITs, dy: 10, g: 10}, {t: '\u2212', f: UP, g: 10}, {t: 'G', f: IT}, {t: 'RP', f: ITs, dy: 10}];
    const xw = mathRun(ctx, xt);
    drawRun(ctx, xt, (a.left + a.right) / 2 - xw / 2, 2518);
    // y axis title  M_G
    const yt = [{t: 'M', f: IT}, {t: 'G', f: ITs, dy: 10}];
    const yw = mathRun(ctx, yt);
    ctx.save();
    ctx.translate(121, (a.top + a.bottom) / 2 - 3);
    ctx.rotate(-Math.PI / 2);
    drawRun(ctx, yt, -yw / 2, 0);
    ctx.restore();
    // legend
    const lw = 785, lh = 528;
    const lx = a.right - 25 - lw, ly = a.bottom - 25 - lh;
    ctx.beginPath();
    if (ctx.roundRect) ctx.roundRect(lx, ly, lw, lh, 10); else ctx.rect(lx, ly, lw, lh);
    ctx.fillStyle = 'rgba(255,255,255,0.8)';
    ctx.fill();
    ctx.lineWidth = 3.3; ctx.strokeStyle = 'rgba(204,204,204,0.8)';
    ctx.stroke();
    const markerCols = [COL.wd, COL.split, COL.nonDA, COL.shallow, COL.magDA];
    const textX = lx + 164, markX = lx + 72;
    for (let i = 0; i < 7; i++) {
      const base = ly + 57 + i * 73;
      if (i < 5) {
        ctx.fillStyle = markerCols[i];
        ctx.beginPath();
        ctx.arc(markX, base - 12, i === 0 ? 3 : 6.3, 0, Math.PI * 2);
        ctx.fill();
      } else {
        ctx.strokeStyle = i === 5 ? GRAY : BLUE;
        ctx.lineWidth = 5.5;
        ctx.beginPath();
        ctx.moveTo(lx + 19, base - 16); ctx.lineTo(lx + 126, base - 16);
        ctx.stroke();
      }
      ctx.fillStyle = '#000';
      ctx.textAlign = 'left';
      if (i < 6) {
        ctx.font = UP;
        ctx.fillText(legendLabels[i], textX, base);
      } else {
        const mt = [{t: 'M', f: IT}, {t: '\u2217', f: UPs, dy: 4, g: 10}, {t: '=', f: UP, g: 10}, {t: '0.6', f: UP, g: 9}, {t: 'M', f: IT}, {t: '\u2299', f: UPs, dy: 8}];
        drawRun(ctx, mt, textX, base);
      }
    }
    ctx.restore();
  }
};

new Chart(document.getElementById('cmd'), {
  type: 'scatter',
  data: {datasets},
  options: {
    responsive: false,
    maintainAspectRatio: false,
    devicePixelRatio: 1,
    animation: false,
    events: [],
    layout: {padding: {left: 225, right: 180, top: 324, bottom: 297}},
    scales: {
      x: {type: 'linear', min: -1, max: 2, display: false},
      y: {type: 'linear', min: 7, max: 23, reverse: true, display: false}
    },
    plugins: {legend: {display: false}, tooltip: {enabled: false}}
  },
  plugins: [decor]
});
</script>
</body>
</html>
